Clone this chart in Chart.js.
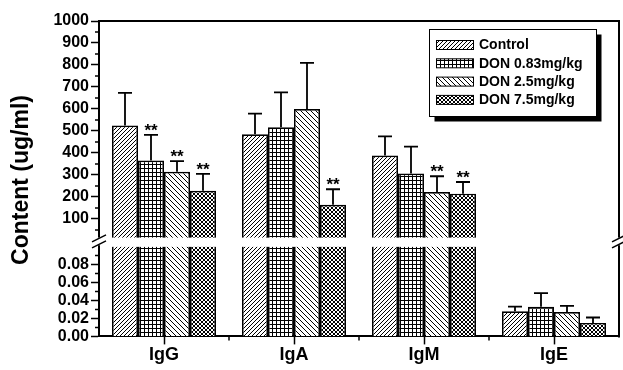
<!DOCTYPE html>
<html><head><meta charset="utf-8">
<script src="https://cdn.jsdelivr.net/npm/chart.js@4/dist/chart.umd.min.js"></script>
<style>html,body{margin:0;padding:0;background:#fff;}#wrap{width:623px;height:370px;}</style>
</head><body><div id="wrap"><canvas id="c" width="623" height="370"></canvas></div>
<script>
const categories = ['IgG', 'IgA', 'IgM', 'IgE'];
const seriesNames = ['Control', 'DON 0.83mg/kg', 'DON 2.5mg/kg', 'DON 7.5mg/kg'];
const control = [525, 485, 388, 0.028];
const don083 = [366, 517, 306, 0.033];
const don25 = [314, 600, 222, 0.027];
const don75 = [228, 164, 215, 0.015];
const controlErr = [148, 94, 87, 0.005];
const don083Err = [116, 158, 123, 0.015];
const don25Err = [49, 210, 72, 0.007];
const don75Err = [77, 71, 53, 0.006];
const controlSig = ['', '', '', ''];
const don083Sig = ['**', '', '', ''];
const don25Sig = ['**', '', '**', ''];
const don75Sig = ['**', '**', '**', ''];
const upperTicks = [100, 200, 300, 400, 500, 600, 700, 800, 900, 1000];
const lowerTicks = [0, 0.02, 0.04, 0.06, 0.08];
const upperMin = -25, upperMax = 1000, lowerMin = 0, lowerMax = 0.1;

const FONT = "'Liberation Sans', Arial, Helvetica, sans-serif";
const values = [control, don083, don25, don75];
const errors = [controlErr, don083Err, don25Err, don75Err];
const sigs = [controlSig, don083Sig, don25Sig, don75Sig];

function makePattern(kind) {
  const s = kind === 'back' ? 5 : 4;
  const c = document.createElement('canvas'); c.width = s; c.height = s;
  const g = c.getContext('2d');
  g.fillStyle = '#fff'; g.fillRect(0, 0, s, s);
  g.strokeStyle = '#000'; g.fillStyle = '#000'; g.lineWidth = 1;
  g.beginPath();
  if (kind === 'fwd' || kind === 'cross') {
    g.moveTo(-1, s + 1); g.lineTo(s + 1, -1);
    g.moveTo(-1, 1); g.lineTo(1, -1);
    g.moveTo(s - 1, s + 1); g.lineTo(s + 1, s - 1);
  }
  if (kind === 'back' || kind === 'cross') {
    g.moveTo(-1, -1); g.lineTo(s + 1, s + 1);
    g.moveTo(s - 1, -1); g.lineTo(s + 1, 1);
    g.moveTo(-1, s - 1); g.lineTo(1, s + 1);
  }
  g.stroke();
  if (kind === 'grid') { g.fillRect(0, 0, s, 1); g.fillRect(0, 0, 1, s); }
  return document.getElementById('c').getContext('2d').createPattern(c, 'repeat');
}
const patterns = [makePattern('fwd'), makePattern('grid'), makePattern('back'), makePattern('cross')];

const datasets = [];
values.forEach((vals, k) => {
  datasets.push({
    label: seriesNames[k], data: vals.map(v => v > lowerMax ? v : null), yAxisID: 'yTop', stack: 's' + k,
    backgroundColor: patterns[k], borderColor: '#000', borderWidth: 1.7,
    categoryPercentage: 0.8, barPercentage: 1
  });
});
values.forEach((vals, k) => {
  datasets.push({
    label: seriesNames[k] + ' low', data: vals.map(v => Math.min(v, lowerMax)), yAxisID: 'yBot', stack: 's' + k,
    backgroundColor: patterns[k], borderColor: '#000',
    borderWidth: ctx => ctx.raw >= lowerMax ? {left: 1.7, right: 1.7, top: 0, bottom: 0} : 1.7,
    categoryPercentage: 0.8, barPercentage: 1
  });
});

const decor = {
  id: 'decor',
  afterDraw(chart) {
    const ctx = chart.ctx, a = chart.chartArea;
    const yT = chart.scales.yTop, yB = chart.scales.yBot;
    ctx.save();
    ctx.strokeStyle = '#000'; ctx.fillStyle = '#000';
    ctx.lineWidth = 2;
    ctx.beginPath(); ctx.moveTo(a.left, a.top); ctx.lineTo(a.right, a.top); ctx.lineTo(a.right, a.bottom + 1); ctx.stroke();
    ctx.lineWidth = 1.5;
    ctx.beginPath();
    upperTicks.forEach(v => { const p = yT.getPixelForValue(v - 50); ctx.moveTo(a.left - 4, p); ctx.lineTo(a.left, p); });
    lowerTicks.forEach(v => { const p = yB.getPixelForValue(v + 0.01); ctx.moveTo(a.left - 4, p); ctx.lineTo(a.left, p); });
    const cw = (a.right - a.left) / categories.length;
    for (let j = 1; j < categories.length; j++) { const px = a.left + j * cw; ctx.moveTo(px, a.bottom); ctx.lineTo(px, a.bottom + 4); }
    ctx.stroke();
    ctx.lineWidth = 1.8;
    values.forEach((vals, k) => {
      const mTop = chart.getDatasetMeta(k), mBot = chart.getDatasetMeta(k + 4);
      vals.forEach((v, j) => {
        const upper = v > lowerMax;
        const el = upper ? mTop.data[j] : mBot.data[j];
        const sc = upper ? yT : yB;
        const y1 = sc.getPixelForValue(v + errors[k][j]);
        ctx.beginPath();
        ctx.moveTo(el.x, el.y); ctx.lineTo(el.x, y1);
        ctx.moveTo(el.x - 7, y1); ctx.lineTo(el.x + 7, y1);
        ctx.stroke();
        if (sigs[k][j]) {
          ctx.font = 'bold 17px ' + FONT; ctx.textAlign = 'center'; ctx.textBaseline = 'alphabetic';
          ctx.fillText(sigs[k][j], el.x, y1 + 1);
        }
      });
    });
    const yb = yT.bottom - 5;
    ctx.fillStyle = '#fff';
    ctx.fillRect(a.left - 1.5, yb - 3.8, a.right - a.left + 3, 7.6);
    ctx.fillStyle = '#000';
    ctx.lineWidth = 1.5;
    [a.left, a.right].forEach(px => {
      ctx.beginPath();
      [-3, 3].forEach(d => { ctx.moveTo(px - 7, yb + d + 3.5); ctx.lineTo(px + 7, yb + d - 3.5); });
      ctx.stroke();
    });
    const lx = 429.5, ly = 29.5, lw = 167, lh = 87;
    ctx.fillStyle = '#000'; ctx.fillRect(lx + 5, ly + 5, lw, lh);
    ctx.fillStyle = '#fff'; ctx.fillRect(lx, ly, lw, lh);
    ctx.lineWidth = 1; ctx.strokeRect(lx, ly, lw, lh);
    seriesNames.forEach((n, k) => {
      const cy = 45 + k * 18.3;
      ctx.fillStyle = patterns[k]; ctx.fillRect(436, cy - 4.5, 37, 9);
      ctx.strokeStyle = '#000'; ctx.lineWidth = 1; ctx.strokeRect(436.5, cy - 4.5, 37, 9);
      ctx.fillStyle = '#000'; ctx.font = 'bold 14px ' + FONT; ctx.textAlign = 'left'; ctx.textBaseline = 'middle';
      ctx.fillText(n, 479, cy + 0.5);
    });
    ctx.translate(22, 180); ctx.rotate(-Math.PI / 2);
    ctx.font = 'bold 23px ' + FONT; ctx.textAlign = 'center'; ctx.textBaseline = 'middle';
    ctx.fillText('Content (ug/ml)', 0, 0);
    ctx.restore();
  }
};

const axisCommon = {
  type: 'linear', position: 'left', stack: 'v', stacked: false, offset: false,
  afterFit: s => { s.width = 99; },
  grid: { drawOnChartArea: false, tickLength: 8, tickColor: '#000', tickWidth: 1.5 },
  border: { display: true, color: '#000', width: 2 }
};

new Chart(document.getElementById('c'), {
  type: 'bar',
  data: { labels: categories, datasets },
  options: {
    responsive: false, animation: false, devicePixelRatio: 1,
    layout: { padding: { top: 21, right: 4, bottom: 4, left: 0 } },
    plugins: { legend: { display: false }, tooltip: { enabled: false } },
    scales: {
      x: {
        type: 'category', offset: true,
        grid: { offset: false, drawOnChartArea: false, tickLength: 8, tickColor: '#000', tickWidth: 1.5 },
        border: { display: true, color: '#000', width: 2 },
        ticks: { color: '#000', font: { family: FONT, size: 18, weight: 'bold' }, padding: 0 }
      },
      yBot: Object.assign({}, axisCommon, {
        stackWeight: 1, min: lowerMin, max: lowerMax,
        afterBuildTicks: s => { s.ticks = lowerTicks.map(v => ({ value: v })); },
        ticks: { color: '#000', autoSkip: false, font: { family: FONT, size: 16, weight: 'bold' }, padding: 2, callback: v => Number(v).toFixed(2) }
      }),
      yTop: Object.assign({}, axisCommon, {
        stackWeight: 2.505, min: upperMin, max: upperMax,
        afterBuildTicks: s => { s.ticks = upperTicks.map(v => ({ value: v })); },
        ticks: { color: '#000', autoSkip: false, font: { family: FONT, size: 16, weight: 'bold' }, padding: 2, callback: v => String(v) }
      })
    }
  },
  plugins: [decor]
});
</script></body></html>
